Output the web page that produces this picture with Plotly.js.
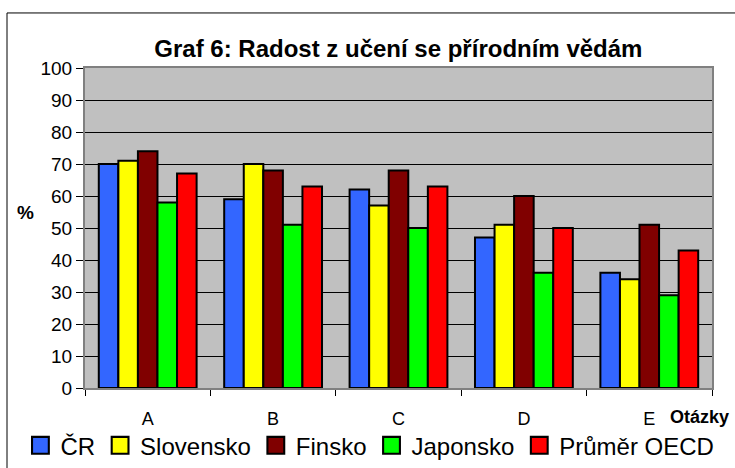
<!DOCTYPE html>
<html>
<head>
<meta charset="utf-8">
<script src="https://cdn.plot.ly/plotly-3.0.1.min.js"></script>
<style>
html,body{margin:0;padding:0;background:#fff;}
#chart{width:735px;height:468px;}
</style>
</head>
<body>
<div id="chart"></div>
<script>
const categories = ["A", "B", "C", "D", "E"];
const seriesNames = ["ČR", "Slovensko", "Finsko", "Japonsko", "Průměr OECD"];
const cr = [70, 59, 62, 47, 36];
const slovensko = [71, 70, 57, 51, 34];
const finsko = [74, 68, 68, 60, 51];
const japonsko = [58, 51, 50, 36, 29];
const oecd = [67, 63, 63, 50, 43];
const yTicks = [0, 10, 20, 30, 40, 50, 60, 70, 80, 90, 100];

const values = [cr, slovensko, finsko, japonsko, oecd];
const colors = ["#3366FF", "#FFFF00", "#800000", "#00FF00", "#FF0000"];
const FONT = "Liberation Sans, Arial, sans-serif";

const traces = values.map((v, i) => ({
  type: "bar",
  name: seriesNames[i],
  x: categories,
  y: v,
  marker: {color: colors[i], line: {color: "#000", width: 2}},
  hoverinfo: "skip"
}));

const layout = {
  width: 735, height: 468,
  margin: {l: 85, r: 23, t: 68, b: 80, autoexpand: false},
  paper_bgcolor: "#fff",
  plot_bgcolor: "#C0C0C0",
  barmode: "group",
  bargap: 0.22,
  bargroupgap: 0,
  font: {family: FONT, color: "#000"},
  title: {text: "<b>Graf 6: Radost z učení se přírodním vědám</b>", font: {size: 24, family: FONT},
          x: 0.542, xanchor: "center", y: 0.897, yanchor: "middle"},
  xaxis: {
    type: "category", tickson: "boundaries", ticks: "outside", ticklen: 6, tickcolor: "#000",
    tickfont: {size: 18}, ticklabelstandoff: 13, showline: true, linecolor: "#808080", linewidth: 2, mirror: true,
    showgrid: false, zeroline: false, automargin: false
  },
  yaxis: {
    range: [0, 100], tickvals: yTicks, ticks: "outside", ticklen: 7, tickcolor: "#000",
    tickfont: {size: 19}, showline: true, linecolor: "#808080", linewidth: 2, mirror: true,
    showgrid: true, gridcolor: "#000", gridwidth: 1, zeroline: false, automargin: false
  },
  showlegend: true,
  legend: {orientation: "h", xref: "paper", yref: "paper", x: -0.103, xanchor: "left",
           y: -0.11, yanchor: "top",
           font: {size: 24}, bgcolor: "rgba(0,0,0,0)", itemwidth: 30, tracegroupgap: 0},
  annotations: [
    {text: "<b>%</b>", xref: "paper", yref: "paper", x: -0.095, y: 0.55, showarrow: false,
     font: {size: 19}, xanchor: "center", yanchor: "middle"},
    {text: "<b>Otázky</b>", xref: "paper", yref: "paper", x: 0.93, y: -0.09, showarrow: false,
     font: {size: 18}, xanchor: "left", yanchor: "middle"}
  ],
  shapes: [
    {type: "rect", xref: "paper", yref: "paper", x0: -0.1244, x1: 1.2, y0: -0.5, y1: 1.172,
     line: {color: "#000", width: 1}, fillcolor: "rgba(0,0,0,0)", layer: "below"}
  ]
};

Plotly.newPlot("chart", traces, layout, {displayModeBar: false, staticPlot: true}).then(gd => {
  gd.querySelectorAll(".legend .legendpoints path").forEach(p => {
    const t = p.getAttribute("transform") || "";
    p.setAttribute("transform", t + " scale(1.4)");
    p.style.strokeWidth = "1.5px";
  });
});
</script>
</body>
</html>
